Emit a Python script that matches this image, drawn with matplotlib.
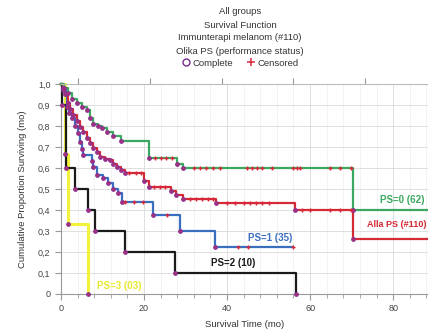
import matplotlib
matplotlib.use("Agg")
from matplotlib import pyplot as plt
from matplotlib.lines import Line2D
from matplotlib.ticker import MultipleLocator, FuncFormatter

plt.rcParams['font.family'] = ['Liberation Sans', 'DejaVu Sans']

# PS=0 (green)
ps0_t = [0.8, 1.8, 2.6, 3.8, 5.0, 6.2, 7.0, 7.8, 9.0, 9.8, 11.2, 12.6, 14.4, 21.2, 27.9, 29.5, 70.4]
ps0_s = [0.98, 0.955, 0.93, 0.91, 0.89, 0.876, 0.84, 0.81, 0.80, 0.79, 0.77, 0.75, 0.73, 0.646, 0.62, 0.60, 0.40]
ps0_c = [22.6, 24.0, 25.4, 26.7, 32.0, 33.5, 35.0, 36.5, 38.3, 44.8, 46.0, 47.2, 48.5, 50.8,
         56.0, 56.8, 57.6, 64.8, 67.3, 69.8]
ps0_end = 88.4

# Alla PS (red)
all_t = [0.5, 1.0, 1.6, 2.2, 3.0, 3.8, 4.6, 5.4, 6.2, 7.0, 7.8, 8.6, 9.4, 10.6, 11.8, 12.6, 13.4,
         14.4, 15.4, 20.0, 21.2, 26.6, 27.8, 29.5, 37.4, 56.4, 70.4]
all_s = [0.98, 0.95, 0.91, 0.88, 0.852, 0.825, 0.797, 0.77, 0.741, 0.72, 0.694, 0.675, 0.654, 0.645,
         0.638, 0.62, 0.606, 0.59, 0.575, 0.54, 0.511, 0.49, 0.47, 0.45, 0.435, 0.40, 0.26]
all_c = [16.5, 18.0, 19.2, 22.5, 23.8, 25.0, 31.0, 32.5, 34.0, 35.5, 36.5, 40.0, 42.0, 44.0, 45.5,
         47.0, 48.5, 50.0, 58.0, 60.0, 64.8, 67.3, 69.8]
all_end = 88.4

# PS=1 (blue)
ps1_t = [0.6, 1.4, 2.0, 2.6, 3.4, 4.2, 4.6, 5.0, 5.4, 7.4, 7.8, 8.6, 10.2, 11.4, 12.6, 13.8, 14.6,
         22.2, 28.7, 37.2]
ps1_s = [0.97, 0.89, 0.86, 0.836, 0.80, 0.765, 0.725, 0.69, 0.66, 0.634, 0.606, 0.567, 0.55, 0.527,
         0.50, 0.48, 0.437, 0.376, 0.30, 0.223]
ps1_c = [15.5, 17.5, 19.8, 25.5, 42.7, 45.1, 56.0]
ps1_end = 56.0

# PS=2 (black)
ps2_t = [0.3, 1.2, 3.4, 6.4, 8.2, 15.4, 27.5, 56.6]
ps2_s = [0.9, 0.6, 0.5, 0.4, 0.3, 0.2, 0.1, 0.0]
ps2_end = 56.6

# PS=3 (yellow)
ps3_t = [1.0, 1.7, 6.5]
ps3_s = [0.667, 0.333, 0.0]
ps3_end = 6.5

fig = plt.figure(figsize=(4.28, 3.32), dpi=100)
ax = fig.add_axes([0.1425, 0.1145, 0.8575, 0.6325])


def km(t, s, end, color, lw=1.6, cens=None):
    xs = [0] + t + [end]
    ys = [1.0] + s + [s[-1]]
    ax.step(xs, ys, where='post', color=color, lw=lw, clip_on=False, zorder=3)
    ax.plot(t, s, 'o', ms=2.6, mfc='#b0306a', mec='#8a2f98', mew=0.8, clip_on=False, zorder=4)
    if cens:
        cy = []
        for c in cens:
            v = 1.0
            for ti, si in zip(t, s):
                if ti <= c:
                    v = si
            cy.append(v)
        ax.plot(cens, cy, '+', ms=3.5, color='#d8283c', mew=1.0, clip_on=False, zorder=5)


km(ps3_t, ps3_s, ps3_end, '#f2f23a', lw=2.2)
km(ps2_t, ps2_s, ps2_end, '#1a1a1a')
km(ps1_t, ps1_s, ps1_end, '#3a6fc0', cens=ps1_c)
km(all_t, all_s, all_end, '#d42a35', cens=all_c)
km(ps0_t, ps0_s, ps0_end, '#3aa860', cens=ps0_c)

ax.set_xlim(0, 88.4)
ax.set_ylim(0, 1.0)
ax.xaxis.set_major_locator(MultipleLocator(20))
ax.xaxis.set_minor_locator(MultipleLocator(4))
ax.yaxis.set_major_locator(MultipleLocator(0.1))
ax.yaxis.set_major_formatter(FuncFormatter(
    lambda v, p: "0" if abs(v) < 1e-9 else ("%.1f" % v).replace(".", ",")))
ax.grid(True, which='major', color='#d9d9d9', lw=0.6)
ax.grid(True, which='minor', axis='x', color='#eeeeee', lw=0.5)
ax.set_axisbelow(True)
for sp in ['top', 'right']:
    ax.spines[sp].set_visible(False)
for sp in ['left', 'bottom']:
    ax.spines[sp].set_color('#999999')
ax.tick_params(which='both', colors='#999999', labelcolor='#444444', labelsize=6.5)
ax.tick_params(which='major', length=4)
ax.tick_params(which='minor', length=3)
ax.set_xlabel("Survival Time (mo)", fontsize=6.8, color='#333333', labelpad=5)
ax.set_ylabel("Cumulative Proportion Surviving (mo)", fontsize=6.8, color='#333333', labelpad=8)

top = ax.twiny()
top.set_xlim(ax.get_xlim())
top.set_xticks([4.1, 21.4, 38.8, 55.9, 73.3])
top.set_xticklabels([])
top.tick_params(colors='#999999', length=4)
for sp in ['left', 'right', 'bottom']:
    top.spines[sp].set_visible(False)
top.spines['top'].set_color('#bbbbbb')

ax.text(82.1, 0.448, "PS=0 (62)", color='#3aa860', fontsize=7, fontweight='bold', ha='center', va='center')
ax.text(73.6, 0.329, "Alla PS (#110)", color='#d42a35', fontsize=6.5, fontweight='bold', ha='left', va='center', clip_on=False)
ax.text(50.4, 0.265, "PS=1 (35)", color='#3a6fc0', fontsize=7, fontweight='bold', ha='center', va='center')
ax.text(41.5, 0.149, "PS=2 (10)", color='#1a1a1a', fontsize=7, fontweight='bold', ha='center', va='center')
ax.text(14.0, 0.038, "PS=3 (03)", color='#e8e830', fontsize=7, fontweight='bold', ha='center', va='center')

titles = ["All groups", "Survival Function", "Immunterapi melanom (#110)", "Olika PS (performance status)"]
for i, tl in enumerate(titles):
    fig.text(0.561, 1 - (12 + 13 * i) / 332, tl, fontsize=6.8, color='#333333', ha='center', va='center')

h = [Line2D([], [], ls='none', marker='o', ms=5, mfc='none', mec='#7a2a90', mew=1.0),
     Line2D([], [], ls='none', marker='+', ms=6, color='#d8283c', mew=1.1)]
fig.legend(h, ["Complete", "Censored"], loc='center', bbox_to_anchor=(0.561, 1 - 63 / 332), ncol=2,
           frameon=False, fontsize=6.8, handlelength=0.8, handletextpad=0.3, columnspacing=1.5,
           borderpad=0, labelcolor='#333333')

fig.savefig("out.png", dpi=100)
